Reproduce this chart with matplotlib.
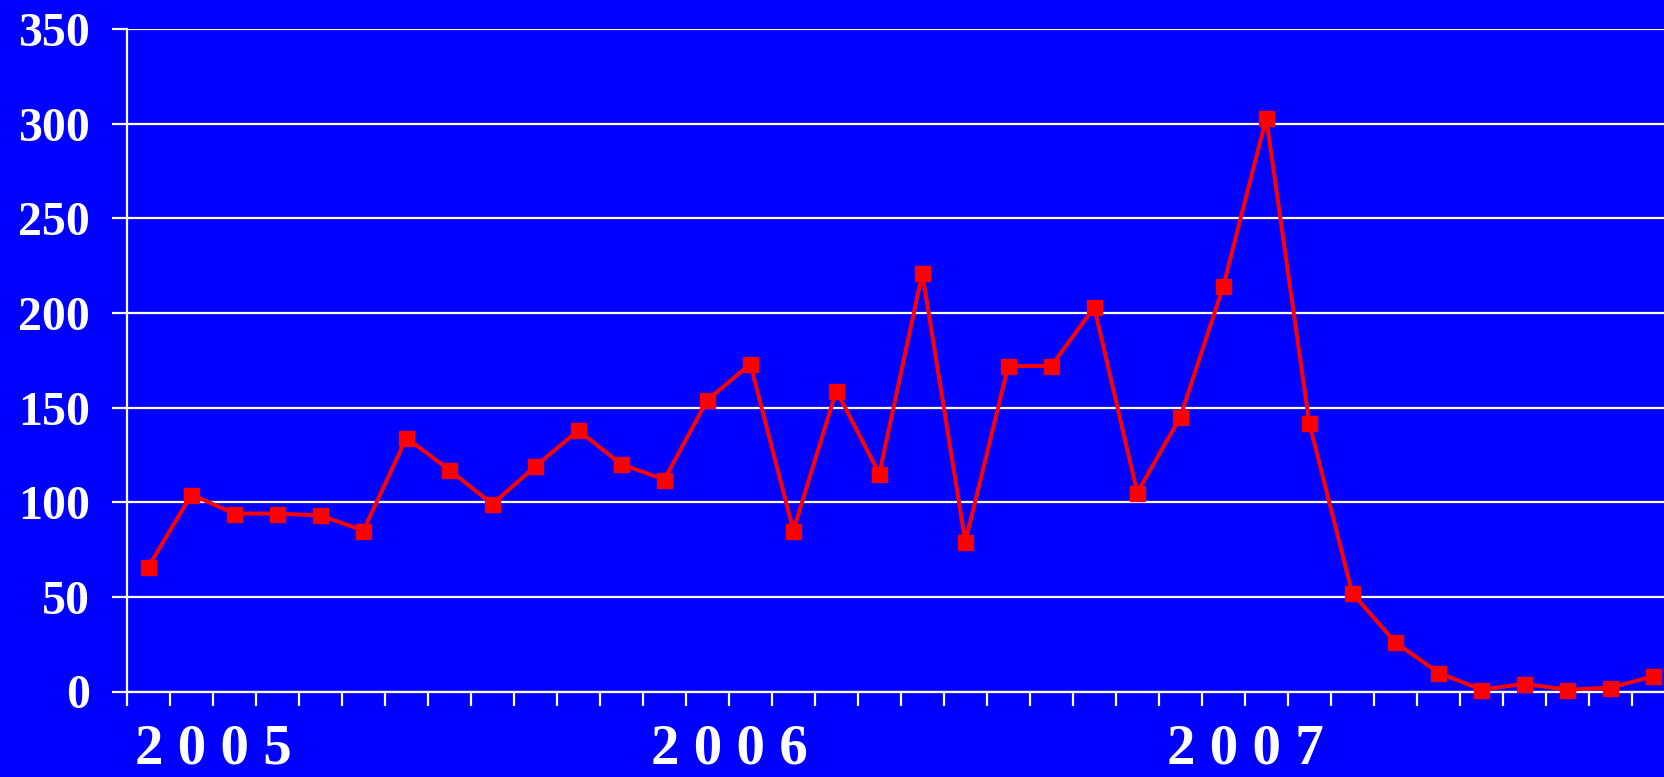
import matplotlib
matplotlib.use("Agg")
import matplotlib.pyplot as plt
import matplotlib.transforms as mtransforms
import numpy as np

values = [66, 104, 94, 94, 93, 85, 134, 117, 99, 119, 138, 120,
          112, 154, 173, 85, 159, 115, 221, 79, 172, 172, 203, 105,
          145, 214, 303, 142, 52, 26, 10, 1, 4, 1, 2, 8]
year_labels = ["2 0 0 5", "2 0 0 6", "2 0 0 7"]
year_start_index = [0, 12, 24]
y_ticks = [0, 50, 100, 150, 200, 250, 300, 350]

BLUE = "#0000FF"
FONT = "Liberation Serif"

fig = plt.figure(figsize=(16.65, 7.77), dpi=100)
fig.patch.set_facecolor(BLUE)
ax = fig.add_axes([127/1665, 1 - 691.5/777, 36*42.99/1665, (691.5-29)/777])
ax.set_facecolor(BLUE)

x = np.arange(len(values))
ax.plot(x, values, color="#FF0000", lw=2.9, marker="s", ms=10.8,
        mec="#FF0000", mfc="#FF0000", zorder=3, clip_on=False)

ax.set_xlim(-0.5, len(values) - 0.5)
ax.set_ylim(0, 350)
ax.set_yticks(y_ticks)
ax.set_yticklabels([str(v) for v in y_ticks], fontfamily=FONT,
                   fontweight="bold", fontsize=34.5, color="white")
ax.set_xticks(np.arange(-0.5, len(values), 1))
ax.set_xticklabels([])
ax.grid(axis="y", color="white", lw=1.6, zorder=1)
ax.tick_params(axis="y", direction="out", length=10.8, width=1.6,
               color="white", pad=15.8)
ax.tick_params(axis="x", direction="out", length=10, width=1.6,
               color="white")
for s in ["top", "right"]:
    ax.spines[s].set_visible(False)
for s in ["left", "bottom"]:
    ax.spines[s].set_color("white")
    ax.spines[s].set_linewidth(1.6)

trans = mtransforms.blended_transform_factory(ax.transData, fig.transFigure)
for lab, idx in zip(year_labels, year_start_index):
    fig.text(idx - 0.5 + 8/43, 1 - 764/777, lab, transform=trans,
             fontfamily=FONT, fontweight="bold", fontsize=41,
             color="white", ha="left", va="baseline")

fig.savefig("out.png", dpi=100, facecolor=BLUE)
